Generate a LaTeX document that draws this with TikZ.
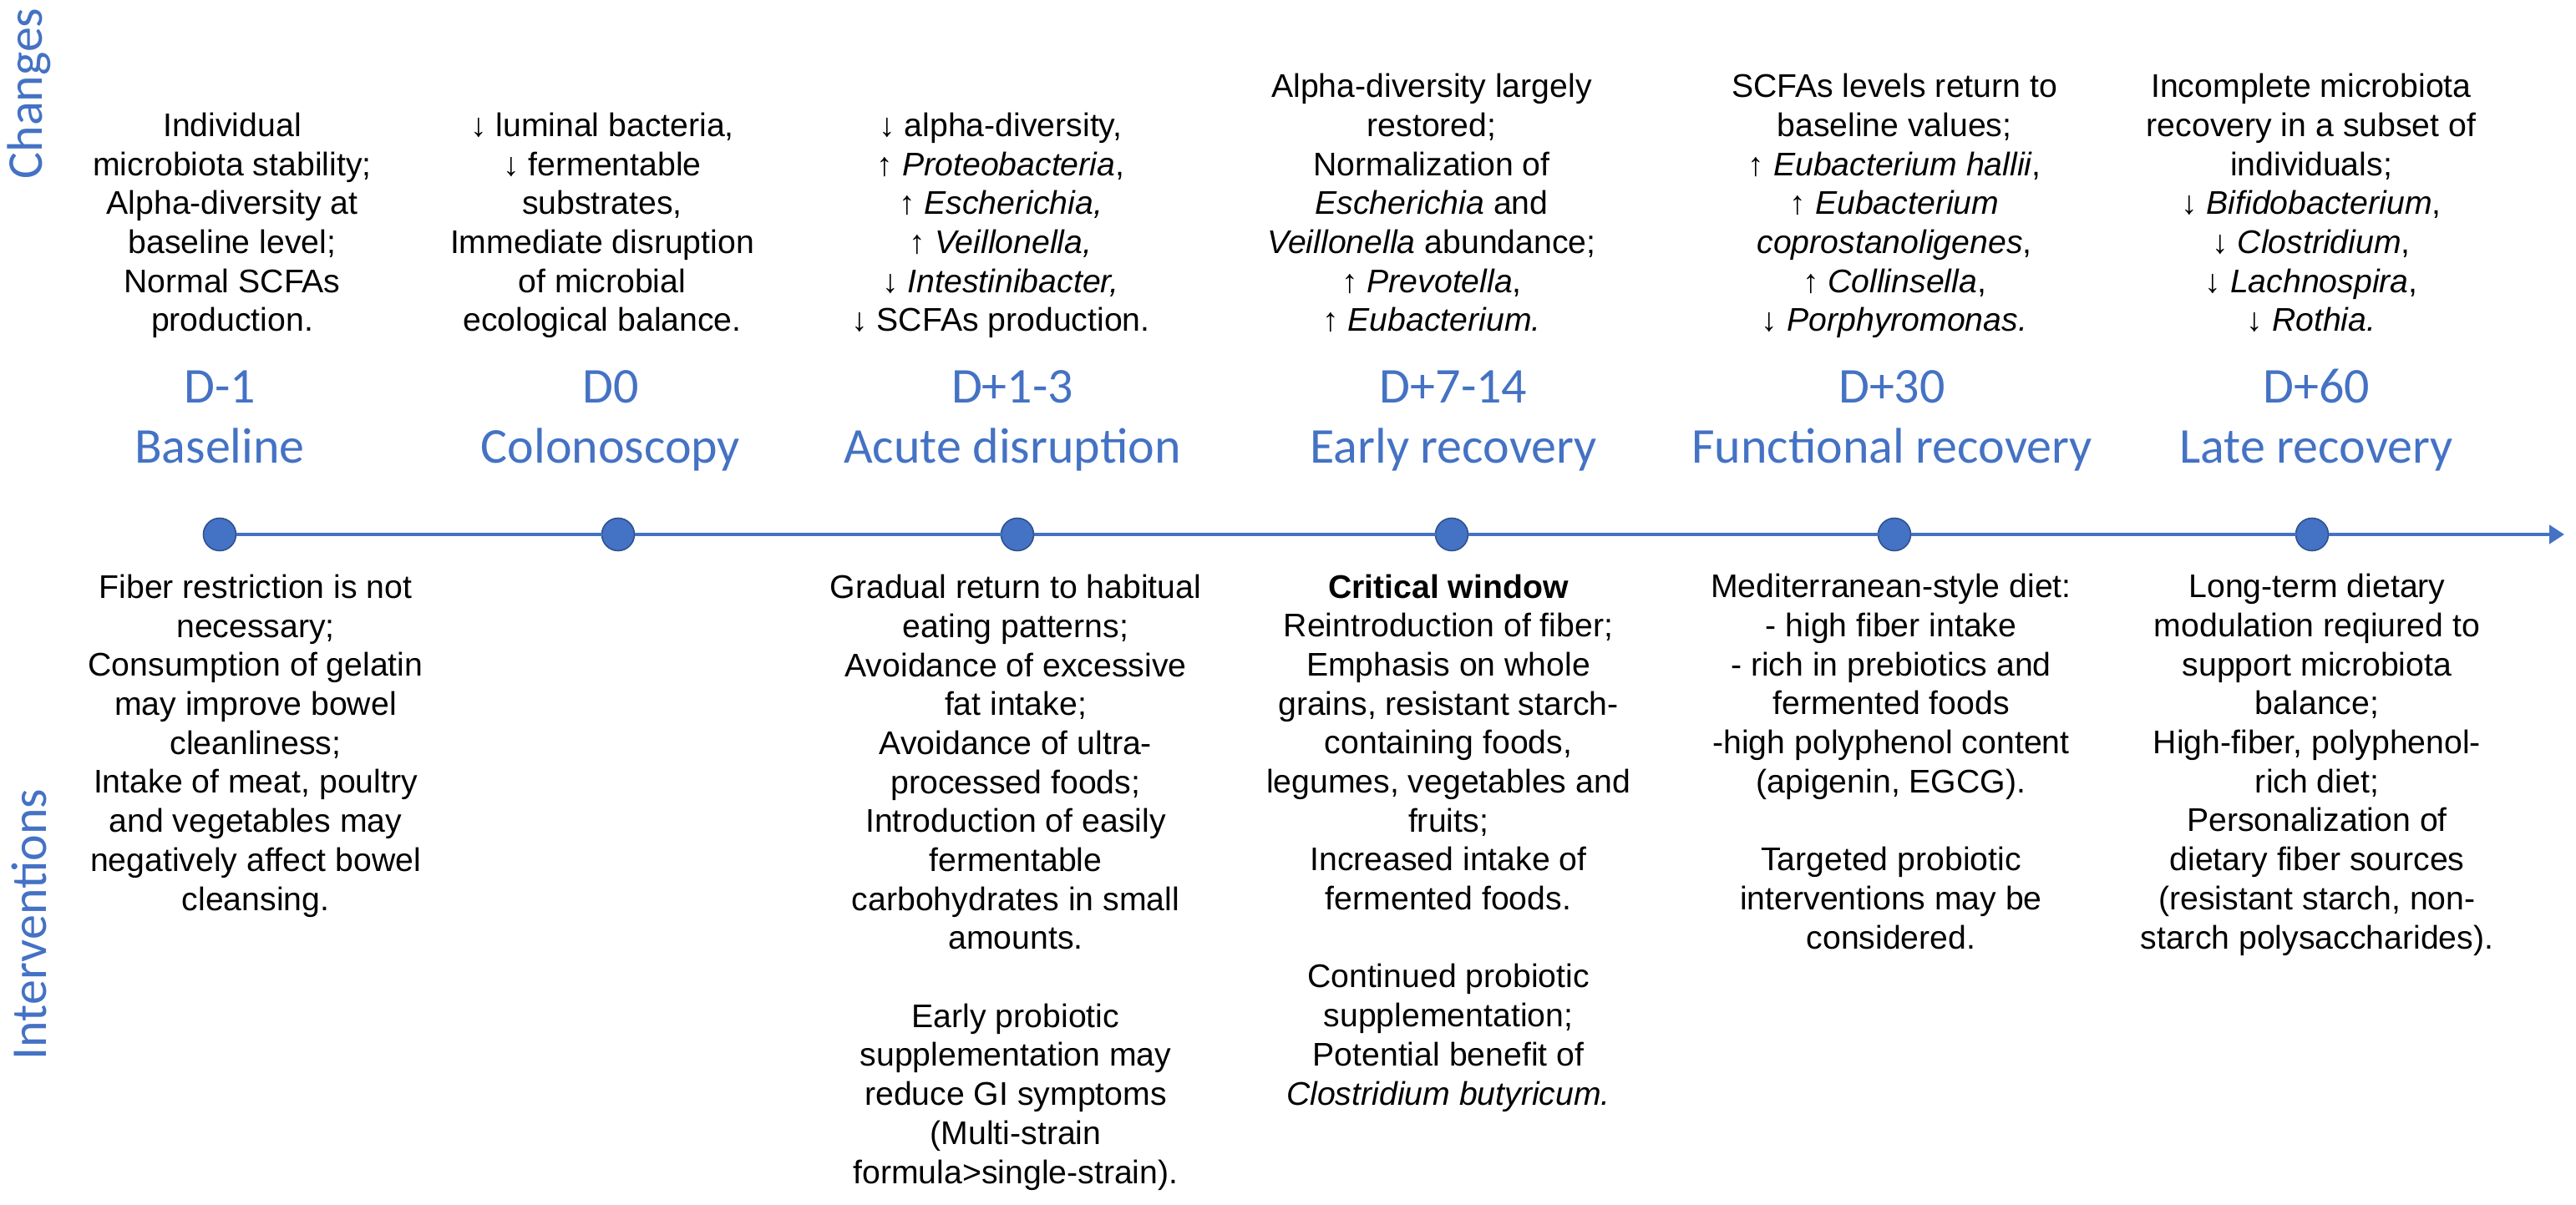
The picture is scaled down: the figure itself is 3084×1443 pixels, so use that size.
\documentclass[tikz,border=0pt]{standalone}
\usepackage{fontspec}
\setmainfont{Liberation Sans}
\newfontfamily\calfont{Carlito}
\usetikzlibrary{arrows.meta}
\definecolor{tlblue}{RGB}{68,114,196}
\definecolor{dotrim}{RGB}{47,82,143}
\begin{document}
\begin{tikzpicture}[x=0.25pt,y=-0.25pt,
  every node/.style={inner sep=0pt,outer sep=0pt},
  txt/.style={align=center,anchor=base,font=\fontsize{9.8}{11.67}\selectfont},
  phase/.style={align=center,anchor=base,text=tlblue,font=\calfont\fontsize{15}{18}\selectfont},
  side/.style={text=tlblue,rotate=90,font=\calfont\fontsize{15}{18}\selectfont},
  dot/.style={circle,draw=dotrim,fill=tlblue,line width=0.4pt,minimum size=9.75pt},
  tl/.style={draw=tlblue,line width=1.1pt}]
\useasboundingbox (0,0) rectangle (3084,1443);
% side titles
\draw (35,112) node[side] (chg) {Changes};
\draw (35,1107) node[side] (itv) {Interventions};
% timeline
\draw (263,640) node[dot] (c1) {};
\draw (740,640) node[dot] (c2) {};
\draw (1218,640) node[dot] (c3) {};
\draw (1738,640) node[dot] (c4) {};
\draw (2268,640) node[dot] (c5) {};
\draw (2768,640) node[dot] (c6) {};
\coordinate (tip) at (3070,640);
\draw[tl,-{Triangle[length=4.5pt,width=5.5pt]}] (c1) -- (c2) -- (c3) -- (c4) -- (c5) -- (c6) -- (tip);
% phases (base = last line)
\draw (263,555) node[phase] (p1) {D-1\\Baseline};
\draw (731,555) node[phase] (p2) {D0\\Colonoscopy};
\draw (1212,555) node[phase] (p3) {D+1-3\\Acute disruption};
\draw (1740,555) node[phase] (p4) {D+7-14\\Early recovery};
\draw (2265,555) node[phase] (p5) {D+30\\Functional recovery};
\draw (2773,555) node[phase] (p6) {D+60\\Late recovery};
% changes
\draw (278,397) node[txt] (ch1) {Individual\\microbiota stability;\\Alpha-diversity at\\baseline level;\\Normal SCFAs\\production.};
\draw (721,397) node[txt] (ch2) {↓ luminal bacteria,\\↓ fermentable\\substrates,\\Immediate disruption\\of microbial\\ecological balance.};
\draw (1198,397) node[txt] (ch3) {↓ alpha-diversity,\\↑ \textit{Proteobacteria},\\↑ \textit{Escherichia,}\\↑ \textit{Veillonella,}\\↓ \textit{Intestinibacter,}\\↓ SCFAs production.};
\draw (1714,397) node[txt] (ch4) {Alpha-diversity largely\\restored;\\Normalization of\\\textit{Escherichia} and\\\textit{Veillonella} abundance;\\↑ \textit{Prevotella},\\↑ \textit{Eubacterium.}};
\draw (2268,397) node[txt] (ch5) {SCFAs levels return to\\baseline values;\\↑ \textit{Eubacterium hallii},\\↑ \textit{Eubacterium}\\\textit{coprostanoligenes},\\↑ \textit{Collinsella},\\↓ \textit{Porphyromonas.}};
\draw (2767,397) node[txt] (ch6) {Incomplete microbiota\\recovery in a subset of\\individuals;\\↓ \textit{Bifidobacterium},\\↓ \textit{Clostridium},\\↓ \textit{Lachnospira},\\↓ \textit{Rothia.}};
% interventions (base = last line)
\draw (306,1090) node[txt] (iv1) {Fiber restriction is not\\necessary;\\Consumption of gelatin\\may improve bowel\\cleanliness;\\Intake of meat, poultry\\and vegetables may\\negatively affect bowel\\cleansing.};
\draw (1216,1417) node[txt] (iv3) {Gradual return to habitual\\eating patterns;\\Avoidance of excessive\\fat intake;\\Avoidance of ultra-\\processed foods;\\Introduction of easily\\fermentable\\carbohydrates in small\\amounts.\\[11.67pt]Early probiotic\\supplementation may\\reduce GI symptoms\\(Multi-strain\\formula>single-strain).};
\draw (1734,1323) node[txt] (iv4) {\textbf{Critical window}\\Reintroduction of fiber;\\Emphasis on whole\\grains, resistant starch-\\containing foods,\\legumes, vegetables and\\fruits;\\Increased intake of\\fermented foods.\\[11.67pt]Continued probiotic\\supplementation;\\Potential benefit of\\\textit{Clostridium butyricum.}};
\draw (2264,1136) node[txt] (iv5) {Mediterranean-style diet:\\- high fiber intake\\- rich in prebiotics and\\fermented foods\\-high polyphenol content\\(apigenin, EGCG).\\[11.67pt]Targeted probiotic\\interventions may be\\considered.};
\draw (2774,1136) node[txt] (iv6) {Long-term dietary\\modulation reqiured to\\support microbiota\\balance;\\High-fiber, polyphenol-\\rich diet;\\Personalization of\\dietary fiber sources\\(resistant starch, non-\\starch polysaccharides).};
\end{tikzpicture}
\end{document}
